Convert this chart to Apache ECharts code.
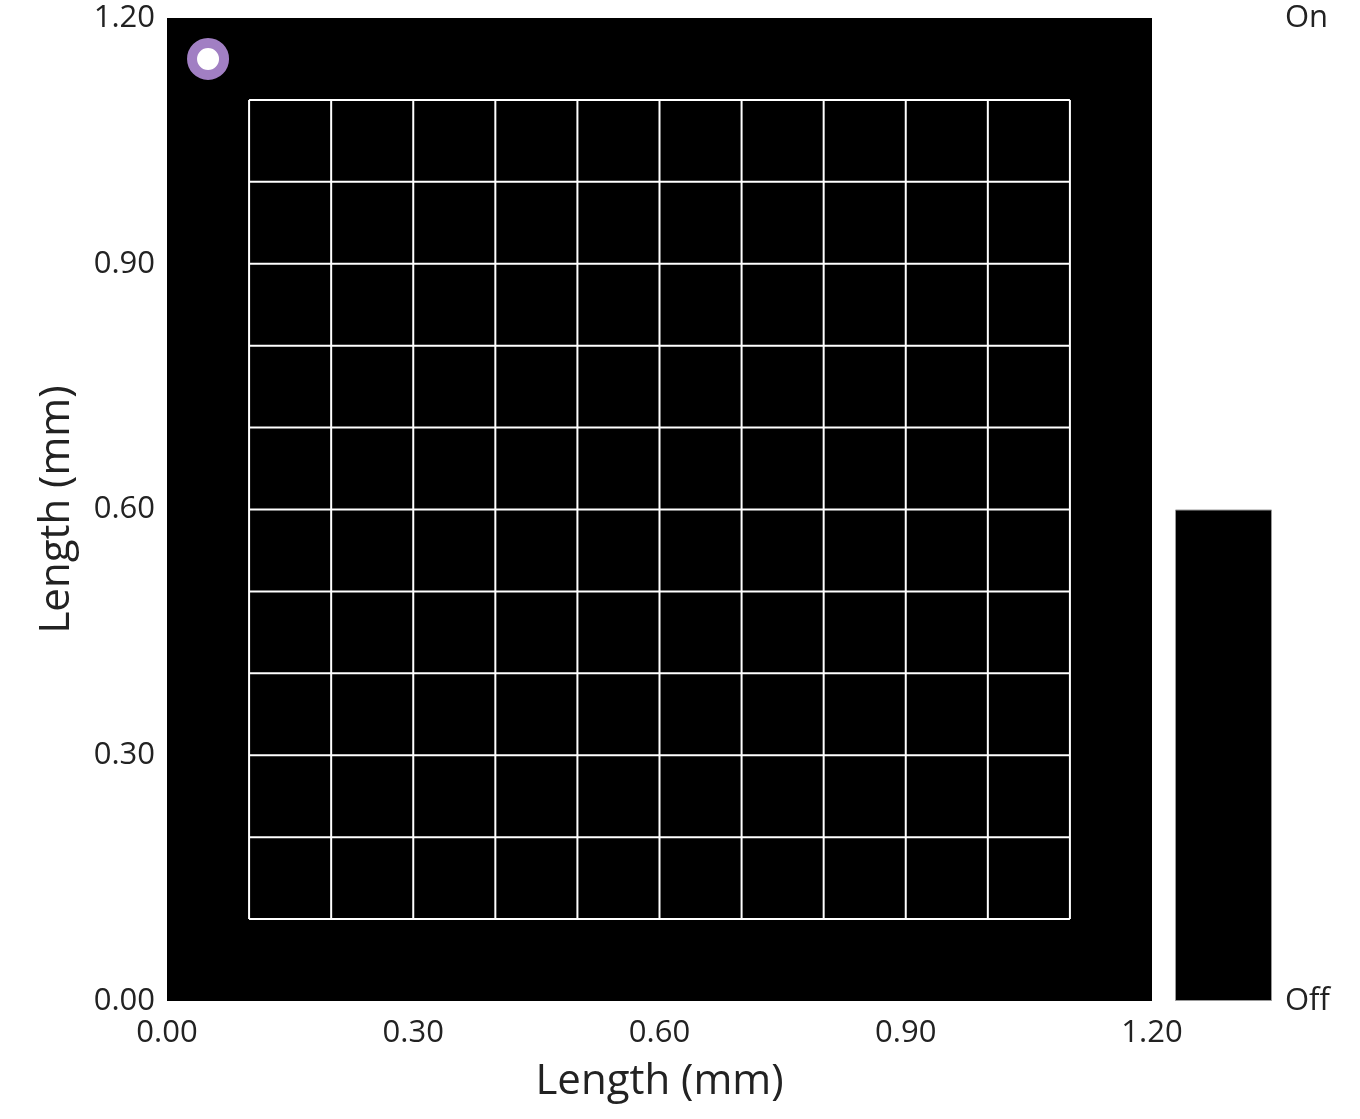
<!DOCTYPE html>
<html><head><meta charset="utf-8">
<script src="https://cdn.jsdelivr.net/npm/echarts@6/dist/echarts.min.js"></script>
<style>html,body{margin:0;padding:0;background:#fff;}#c{width:1360px;height:1119px;}</style>
</head><body><div id="c"></div>
<script>
// Data
const axisTicks = [0, 0.3, 0.6, 0.9, 1.2];
const gridPositions = [0.1, 0.2, 0.3, 0.4, 0.5, 0.6, 0.7, 0.8, 0.9, 1.0, 1.1];
const gridExtent = [0.1, 1.1];
const markerPoint = [0.05, 1.15];
const colorbarLevel = [0.5];
const colorbarLabels = ['Off', 'On'];

const font = '"Open Sans", "Noto Sans", sans-serif';
const textColor = '#222';

const gridSeries = [];
gridPositions.forEach(p => {
  gridSeries.push({type: 'line', xAxisIndex: 0, yAxisIndex: 0, symbol: 'none', silent: true,
    lineStyle: {color: '#fff', width: 2}, data: [[p, gridExtent[0]], [p, gridExtent[1]]], z: 3});
  gridSeries.push({type: 'line', xAxisIndex: 0, yAxisIndex: 0, symbol: 'none', silent: true,
    lineStyle: {color: '#fff', width: 2}, data: [[gridExtent[0], p], [gridExtent[1], p]], z: 3});
});

const chart = echarts.init(document.getElementById('c'), null, {renderer: 'canvas'});
chart.setOption({
  animation: false,
  backgroundColor: '#fff',
  grid: [
    {left: 167, right: 208, top: 18, bottom: 118, show: true, backgroundColor: '#000', borderWidth: 0},
    {left: 1175, width: 97, top: 18, bottom: 118, show: false}
  ],
  xAxis: [
    {type: 'value', gridIndex: 0, min: 0, max: 1.2, interval: 0.3,
     name: 'Length (mm)', nameLocation: 'middle', nameGap: 60,
     nameTextStyle: {fontFamily: font, fontSize: 42, color: textColor},
     axisLine: {show: false}, axisTick: {show: false}, splitLine: {show: false},
     axisLabel: {fontFamily: font, fontSize: 31, color: textColor, margin: 17,
       formatter: v => v.toFixed(2)}},
    {type: 'category', gridIndex: 1, data: ['bar'], show: false}
  ],
  yAxis: [
    {type: 'value', gridIndex: 0, min: 0, max: 1.2, interval: 0.3,
     name: 'Length (mm)', nameLocation: 'middle', nameGap: 89,
     nameTextStyle: {fontFamily: font, fontSize: 42, color: textColor},
     axisLine: {show: false}, axisTick: {show: false}, splitLine: {show: false},
     axisLabel: {fontFamily: font, fontSize: 31, color: textColor, margin: 12,
       formatter: v => v.toFixed(2)}},
    {type: 'value', gridIndex: 1, min: 0, max: 1, interval: 1, position: 'right',
     axisLine: {show: false}, axisTick: {show: false}, splitLine: {show: false},
     axisLabel: {fontFamily: font, fontSize: 31, color: textColor, margin: 13,
       formatter: v => v === 0 ? colorbarLabels[0] : colorbarLabels[1]}}
  ],
  series: [
    ...gridSeries,
    {type: 'scatter', xAxisIndex: 0, yAxisIndex: 0, symbol: 'circle', symbolSize: 32,
     itemStyle: {color: '#fff', borderColor: '#a17fc3', borderWidth: 10, opacity: 1},
     data: [markerPoint], z: 5},
    {type: 'bar', xAxisIndex: 1, yAxisIndex: 1, barWidth: '100%',
     itemStyle: {color: '#000', borderColor: '#999', borderWidth: 1},
     data: colorbarLevel}
  ]
});
</script></body></html>
